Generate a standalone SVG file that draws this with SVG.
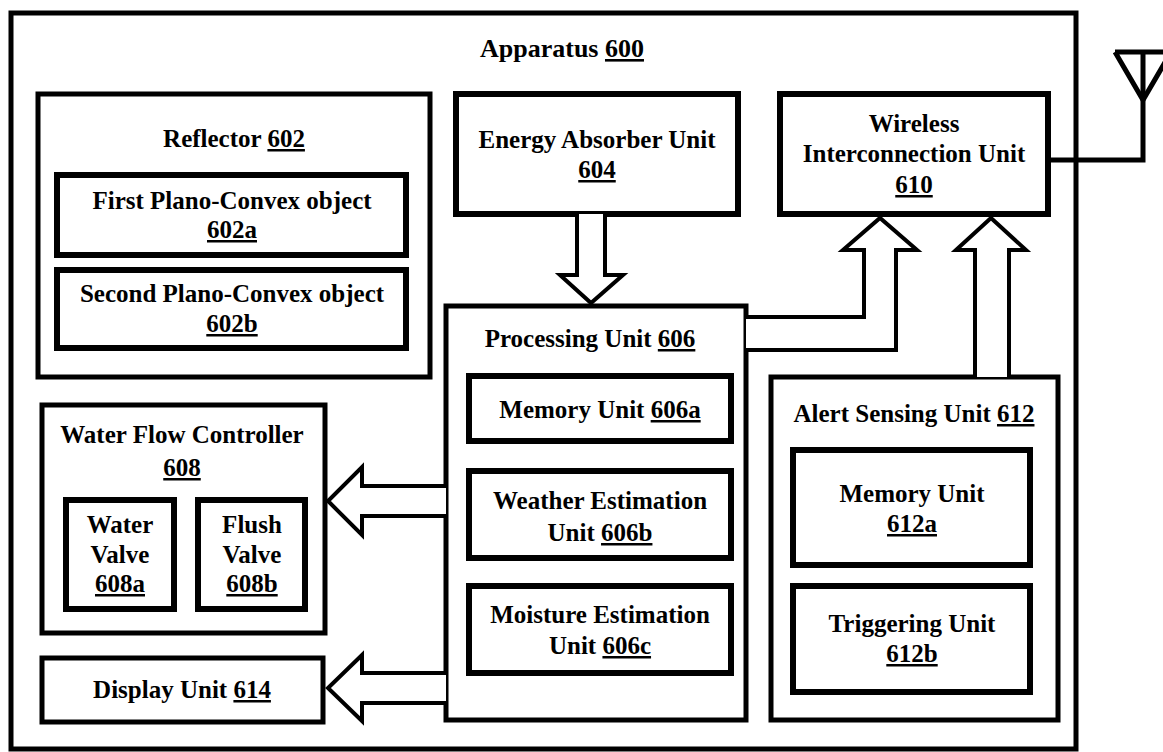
<svg xmlns="http://www.w3.org/2000/svg" width="1163" height="752" viewBox="0 0 1163 752">
<style>
text{font-family:"Liberation Serif","Times New Roman",serif;font-weight:bold;font-size:25px;fill:#000;text-anchor:middle}
.u{text-decoration:underline}
.box{fill:#fff;stroke:#000;stroke-width:5}
.sub{fill:#fff;stroke:#000;stroke-width:6}
.outer{fill:#fff;stroke:#000;stroke-width:5}
.arr{fill:#fff;stroke:#000;stroke-width:4;stroke-linejoin:miter}
.wire{fill:none;stroke:#000;stroke-width:5}
</style>
<rect width="1163" height="752" fill="#fff"/>
<g id="apparatus-600">
<rect class="outer" x="11" y="13" width="1065" height="736"/>
<text x="562" y="57" style="font-size:26px">Apparatus <tspan class="u">600</tspan></text>
</g>
<g id="reflector-602">
<rect class="box" x="38" y="94" width="392" height="283"/>
<text x="234" y="147">Reflector <tspan class="u">602</tspan></text>
</g>
<g id="plano-convex-602a">
<rect class="sub" x="57" y="175" width="349" height="80"/>
<text x="232" y="209">First Plano-Convex object</text>
<text x="232" y="238"><tspan class="u">602a</tspan></text>
</g>
<g id="plano-convex-602b">
<rect class="sub" x="57" y="270" width="349" height="78"/>
<text x="232" y="302">Second Plano-Convex object</text>
<text x="232" y="332"><tspan class="u">602b</tspan></text>
</g>
<g id="energy-absorber-604">
<rect class="sub" x="456" y="94" width="282" height="120"/>
<text x="597" y="148">Energy Absorber Unit</text>
<text x="597" y="178"><tspan class="u">604</tspan></text>
</g>
<g id="wireless-610">
<rect class="sub" x="780" y="94" width="268" height="120"/>
<text x="914" y="132">Wireless</text>
<text x="914" y="162">Interconnection Unit</text>
<text x="914" y="193"><tspan class="u">610</tspan></text>
</g>
<g id="processing-606">
<rect class="box" x="446" y="306" width="300" height="414"/>
<text x="590" y="347">Processing Unit <tspan class="u">606</tspan></text>
</g>
<g id="memory-606a">
<rect class="sub" x="469" y="376" width="262" height="65"/>
<text x="600" y="418">Memory Unit <tspan class="u">606a</tspan></text>
</g>
<g id="weather-606b">
<rect class="sub" x="469" y="471" width="262" height="87"/>
<text x="600" y="509">Weather Estimation</text>
<text x="600" y="541">Unit <tspan class="u">606b</tspan></text>
</g>
<g id="moisture-606c">
<rect class="sub" x="469" y="586" width="262" height="87"/>
<text x="600" y="623">Moisture Estimation</text>
<text x="600" y="654">Unit <tspan class="u">606c</tspan></text>
</g>
<g id="alert-612">
<rect class="box" x="771" y="377" width="287" height="343"/>
<text x="914" y="422">Alert Sensing Unit <tspan class="u">612</tspan></text>
</g>
<g id="memory-612a">
<rect class="sub" x="793" y="450" width="237" height="115"/>
<text x="912" y="502">Memory Unit</text>
<text x="912" y="532"><tspan class="u">612a</tspan></text>
</g>
<g id="triggering-612b">
<rect class="sub" x="793" y="586" width="237" height="106"/>
<text x="912" y="632">Triggering Unit</text>
<text x="912" y="662"><tspan class="u">612b</tspan></text>
</g>
<g id="water-flow-608">
<rect class="box" x="42" y="405" width="283" height="228"/>
<text x="182" y="443">Water Flow Controller</text>
<text x="182" y="476"><tspan class="u">608</tspan></text>
</g>
<g id="water-valve-608a">
<rect class="sub" x="66" y="500" width="108" height="109"/>
<text x="120" y="533">Water</text>
<text x="120" y="563">Valve</text>
<text x="120" y="592"><tspan class="u">608a</tspan></text>
</g>
<g id="flush-valve-608b">
<rect class="sub" x="198" y="500" width="107" height="109"/>
<text x="252" y="533">Flush</text>
<text x="252" y="563">Valve</text>
<text x="252" y="592"><tspan class="u">608b</tspan></text>
</g>
<g id="display-614">
<rect class="box" x="42" y="658" width="281" height="64"/>
<text x="182" y="698">Display Unit <tspan class="u">614</tspan></text>
</g>
<g id="antenna">
<path class="wire" d="M1115,52 L1170,52 M1115,52 L1143,100 L1171,52"/>
</g>
<g id="connectors">
<path class="arr" d="M577,214 L577,275 L560,275 L591,303 L623,275 L605,275 L605,214"/>
<path class="arr" d="M746,317 L864,317 L864,250 L843,250 L880,218 L917,250 L896,250 L896,350 L746,350"/>
<path class="arr" d="M975,377 L975,250 L956,250 L991,218 L1026,250 L1009,250 L1009,377"/>
<path class="arr" d="M446,486 L362,486 L362,467 L328,501 L362,535 L362,516 L446,516"/>
<path class="arr" d="M446,673 L362,673 L362,655 L328,688 L362,721 L362,703 L446,703"/>
<path class="wire" d="M1048,160 L1143,160 L1143,52"/>
</g>
</svg>
